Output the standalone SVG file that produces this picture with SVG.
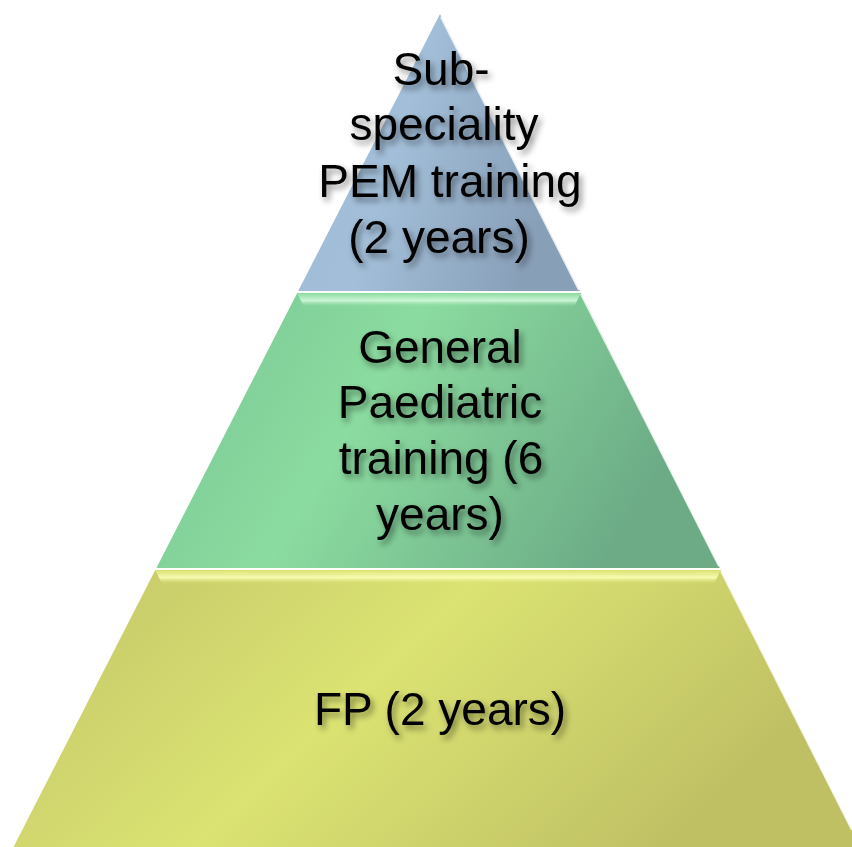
<svg xmlns="http://www.w3.org/2000/svg" width="852" height="847" viewBox="0 0 852 847">
<defs>
<linearGradient id="gBlue" x1="0" y1="0" x2="1" y2="0.3">
<stop offset="0" stop-color="#9fbcd7"/>
<stop offset="0.45" stop-color="#a2bed8"/>
<stop offset="1" stop-color="#889fb8"/>
</linearGradient>
<linearGradient id="gGreen" x1="0" y1="0" x2="1" y2="0.3">
<stop offset="0" stop-color="#78c494"/>
<stop offset="0.45" stop-color="#8bdca0"/>
<stop offset="1" stop-color="#6cab86"/>
</linearGradient>
<linearGradient id="gYellow" x1="0" y1="0" x2="1" y2="0.35">
<stop offset="0" stop-color="#c2c468"/>
<stop offset="0.5" stop-color="#dbe372"/>
<stop offset="1" stop-color="#bfc064"/>
</linearGradient>
<linearGradient id="bevG" x1="0" y1="0" x2="0" y2="1">
<stop offset="0" stop-color="#8bdca0"/>
<stop offset="0.55" stop-color="#d4fadc"/>
<stop offset="1" stop-color="#8bdca0" stop-opacity="0"/>
</linearGradient>
<linearGradient id="bevY" x1="0" y1="0" x2="0" y2="1">
<stop offset="0" stop-color="#dbe372"/>
<stop offset="0.55" stop-color="#fbffb8"/>
<stop offset="1" stop-color="#dbe372" stop-opacity="0"/>
</linearGradient>
<filter id="sh" x="-20%" y="-20%" width="140%" height="150%">
<feDropShadow dx="3" dy="4" stdDeviation="3" flood-color="#000" flood-opacity="0.45"/>
</filter>
</defs>
<style>
.t{font-family:"Liberation Sans",Arial,sans-serif;font-size:46px;fill:#000;text-anchor:middle;filter:url(#sh)}
.edge{fill:none;stroke:#ffffff;stroke-width:2;stroke-opacity:0.8}
</style>
<g id="tier-bottom">
<polygon points="155.3,570 720.8,570 860.7,847 13.5,847" fill="url(#gYellow)"/>
<polygon points="155.3,570 720.8,570 714,584 162,584" fill="url(#bevY)" opacity="0.9"/>
<line class="edge" x1="721" y1="571" x2="852" y2="830"/>
<text class="t" x="440" y="725">FP (2 years)</text>
</g>
<g id="tier-middle">
<polygon points="297.2,293 580.9,293 719.8,568 156.4,568" fill="url(#gGreen)"/>
<polygon points="297.2,293 580.9,293 574,307 304,307" fill="url(#bevG)" opacity="0.9"/>
<line class="edge" x1="581" y1="294" x2="719" y2="566"/>
<text class="t" x="440" y="363">General</text>
<text class="t" x="440" y="418">Paediatric</text>
<text class="t" x="441" y="474">training (6</text>
<text class="t" x="440" y="530">years)</text>
</g>
<g id="tier-top">
<polygon points="440,14 579.9,291 298.2,291" fill="url(#gBlue)"/>
<line class="edge" x1="441" y1="17" x2="579" y2="290"/>
<text class="t" x="441" y="85">Sub-</text>
<text class="t" x="444" y="140">speciality</text>
<text class="t" x="450" y="197">PEM training</text>
<text class="t" x="439" y="253">(2 years)</text>
</g>
<g id="connectors"/>
</svg>
